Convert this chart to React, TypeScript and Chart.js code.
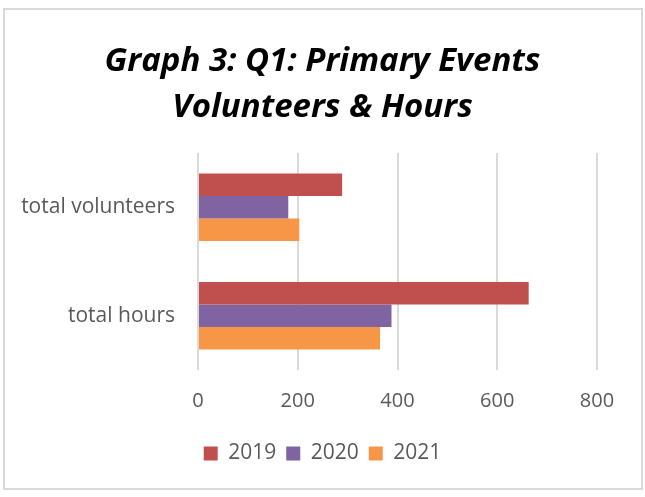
import React, { useEffect, useRef } from "react";
import { Chart, registerables } from "chart.js";

Chart.register(...registerables);

const categories = ["total volunteers", "total hours"];
const seriesNames = ["2019", "2020", "2021"];
const values2019 = [289, 663];
const values2020 = [181, 388];
const values2021 = [203, 365];
const seriesColors = ["#C0504D", "#8064A2", "#F79646"];
const titleLines = ["Graph 3: Q1: Primary Events", "Volunteers & Hours"];
const xMin = 0;
const xMax = 800;
const xStep = 200;

export default function App() {
  const ref = useRef<HTMLCanvasElement>(null);

  useEffect(() => {
    if (!ref.current) return;
    const seriesValues = [values2019, values2020, values2021];
    const chart = new Chart(ref.current, {
      type: "bar",
      data: {
        labels: categories,
        datasets: seriesNames.map((name, i) => ({
          label: name,
          data: seriesValues[i],
          backgroundColor: seriesColors[i],
          borderWidth: 0,
          categoryPercentage: 0.62,
          barPercentage: 1.0,
        })),
      },
      options: {
        indexAxis: "y",
        responsive: false,
        animation: false,
        layout: { padding: { top: 0, left: 0, right: 0, bottom: 23 } },
        plugins: {
          tooltip: { enabled: false },
          title: {
            display: true,
            text: titleLines,
            color: "#000000",
            font: {
              family: "'Open Sans', sans-serif",
              size: 33,
              weight: "bold",
              style: "italic",
              lineHeight: 46 / 33,
            },
            padding: { top: 39, bottom: 22 },
          },
          legend: {
            position: "bottom",
            labels: {
              boxWidth: 14,
              boxHeight: 14,
              padding: 10,
              color: "#595959",
              font: { family: "'Open Sans', sans-serif", size: 21 },
            },
          },
        },
        scales: {
          x: {
            min: xMin,
            max: xMax,
            ticks: {
              stepSize: xStep,
              color: "#595959",
              padding: 19,
              font: { family: "'Open Sans', sans-serif", size: 20 },
            },
            grid: { color: "#D9D9D9", lineWidth: 2, drawTicks: false },
            border: { display: false },
            afterFit: (s: any) => {
              s.height = 63;
            },
          },
          y: {
            grid: { display: false, drawTicks: false },
            border: { display: false },
            ticks: {
              color: "#595959",
              padding: 23,
              font: { family: "'Open Sans', sans-serif", size: 21 },
            },
            afterFit: (s: any) => {
              s.width = 198;
            },
          },
          yRight: {
            axis: "y",
            type: "linear",
            position: "right",
            grid: { display: false, drawTicks: false },
            border: { display: false },
            ticks: { display: false },
            afterFit: (s: any) => {
              s.width = 48;
            },
          },
        },
      },
    });
    return () => chart.destroy();
  }, []);

  return (
    <div style={{ position: "absolute", left: 0, top: 0, width: 645, height: 497, background: "#fff" }}>
      <canvas ref={ref} width={645} height={497} style={{ position: "absolute", left: 0, top: 0 }} />
      <div
        style={{
          position: "absolute",
          left: 3,
          top: 8,
          width: 640,
          height: 482,
          border: "2px solid #D9D9D9",
          boxSizing: "border-box",
          pointerEvents: "none",
        }}
      />
    </div>
  );
}
